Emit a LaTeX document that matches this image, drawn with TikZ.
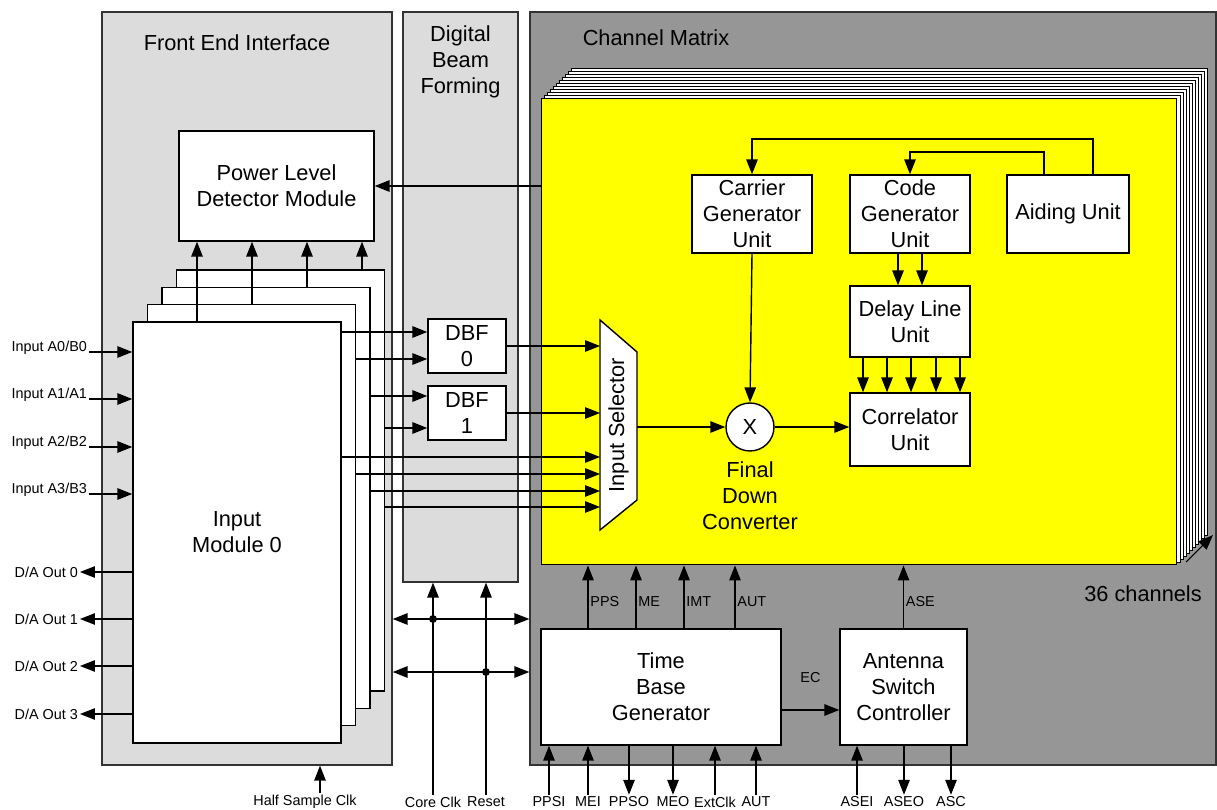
\documentclass[tikz,border=0pt]{standalone}
\usepackage{fontspec}
\setmainfont{Liberation Sans}
\usetikzlibrary{arrows.meta, positioning, calc}
\usepackage{xcolor}
\definecolor{panelLightC}{HTML}{DCDCDC}
\definecolor{panelDarkC}{HTML}{969696}
\definecolor{chanYellow}{HTML}{FFFF00}
\tikzset{
    font=\fontsize{12.4}{14.8}\selectfont,
    >={Triangle[length=8.5pt,width=6.5pt]},
    % Panels
    panelLight/.style={rectangle, draw=black!80, fill=panelLightC, line width=0.8pt, inner sep=0pt},
    panelDark/.style={rectangle, draw=black!80, fill=panelDarkC, line width=0.8pt, inner sep=0pt},
    % Shapes
    unitBox/.style={rectangle, draw=black, fill=white, line width=0.8pt, align=center, inner sep=2pt},
    modPage/.style={rectangle, draw=black, fill=white, line width=0.8pt, align=center, inner sep=0pt},
    chanPage/.style={draw=black, fill=white, line width=0.5pt},
    mixer/.style={circle, draw=black, fill=white, line width=0.8pt, minimum size=0.96cm, inner sep=0pt},
    % Flow & Labels
    flow/.style={->, line width=0.8pt},
    biflow/.style={<->, line width=0.8pt},
    lbl/.style={align=center, inner sep=1pt},
    pinLbl/.style={font=\fontsize{8.2}{9.8}\selectfont, inner sep=1pt},
    dot/.style={circle, fill=black, inner sep=0pt, minimum size=4.5pt}
}

\begin{document}
\begin{tikzpicture}[x=0.02cm, y=-0.02cm]
\useasboundingbox (0,0) rectangle (1217,810);

% Panels
\node[panelLight, minimum width=5.8cm, minimum height=15.06cm] (fei) at (247,388.5) {};
\node[panelLight, minimum width=2.3cm, minimum height=11.4cm] (dbfp) at (460.5,297) {};
\node[panelDark, minimum width=13.72cm, minimum height=15.06cm] (cm) at (873,388.5) {};
\node[lbl] (feiTitle) at (237,43) {Front End Interface};
\node[lbl] (dbfTitle) at (460.5,62) {Digital\\Beam\\Forming};
\node[lbl] (cmTitle) at (656,38) {Channel Matrix};

% Channel pages
\foreach \i in {10,...,1}
  \draw[chanPage] (541+3*\i,98-3*\i) rectangle (1177+3*\i,565-3*\i);
\node[rectangle, draw=black, line width=0.6pt, fill=chanYellow,
      minimum width=12.72cm, minimum height=9.34cm] (chan) at (859,331.5) {};
\node[lbl] (chanCount) at (1143,594) {36 channels};
\coordinate (stackA) at (1186,562);
\coordinate (stackB) at (1213,535);
\draw[->, line width=0.6pt] (stackA) -- (stackB);

% Front end
\node[unitBox, minimum width=3.9cm, minimum height=2.2cm] (pld) at (276.5,186) {Power Level\\Detector Module};
\foreach \i in {3,2,1}
  \node[modPage, minimum width=4.16cm, minimum height=8.42cm] (mod\i) at (237+14.5*\i, 532.5-17.3*\i) {};
\node[modPage, minimum width=4.16cm, minimum height=8.42cm] (mod0) at (237,532.5) {Input\\Module 0};

% Beam forming
\node[unitBox, minimum width=1.56cm, minimum height=1.08cm] (dbf0) at (467,346) {DBF\\0};
\node[unitBox, minimum width=1.56cm, minimum height=1.08cm] (dbf1) at (467,413) {DBF\\1};

% Channel
\draw[draw=black, fill=white, line width=0.8pt] (600,320) -- (637,352) -- (637,500) -- (600,530) -- cycle;
\node[lbl, rotate=90] (sel) at (618.5,425) {Input Selector};
\coordinate (selIn) at (600,425);
\coordinate (selOut) at (637,427);
\node[mixer] (fdc) at (750,427) {X};
\node[lbl] (fdcLbl) at (750,496) {Final\\Down\\Converter};
\node[unitBox, minimum width=2.4cm, minimum height=1.56cm] (car) at (752,214) {Carrier\\Generator\\Unit};
\node[unitBox, minimum width=2.4cm, minimum height=1.56cm] (code) at (910,214) {Code\\Generator\\Unit};
\node[unitBox, minimum width=2.44cm, minimum height=1.56cm] (aid) at (1068,214) {Aiding Unit};
\node[unitBox, minimum width=2.4cm, minimum height=1.42cm] (dly) at (910,321.5) {Delay Line\\Unit};
\node[unitBox, minimum width=2.4cm, minimum height=1.46cm] (cor) at (910,429.5) {Correlator\\Unit};
\node[unitBox, minimum width=4.8cm, minimum height=2.32cm] (tbg) at (661,687) {Time\\Base\\Generator};
\node[unitBox, minimum width=2.54cm, minimum height=2.32cm] (asc) at (903.5,687) {Antenna\\Switch\\Controller};

% Front end flows
\foreach \x/\m in {197/mod0, 252/mod1, 307/mod2, 362/mod3}
  \draw[flow] (\x,0 |- \m.north) -- (\x,0 |- pld.south);
\foreach \m/\y/\t in {mod0/332/dbf0, mod1/359/dbf0, mod2/396/dbf1, mod3/428/dbf1}
  \draw[flow] (\m.east |- 0,\y) -- (\t.west |- 0,\y);
\foreach \m/\y in {mod0/457, mod1/474, mod2/491, mod3/507}
  \draw[flow] (\m.east |- 0,\y) -- (selIn |- 0,\y);
\draw[flow] (chan.west |- pld.east) -- (pld.east);

\node[pinLbl, anchor=base east] (inA0) at (89,352) {Input A0/B0};
\node[pinLbl, anchor=base east] (inA1) at (89,399) {Input A1/A1};
\node[pinLbl, anchor=base east] (inA2) at (89,447) {Input A2/B2};
\node[pinLbl, anchor=base east] (inA3) at (89,494) {Input A3/B3};
\foreach \n in {inA0, inA1, inA2, inA3}
  \draw[flow] (\n.base east) -- (\n.base east -| mod0.west);
\foreach \i/\y in {0/572, 1/619, 2/666, 3/714} {
  \node[pinLbl, anchor=east] (da\i) at (80,\y) {D/A Out \i};
  \draw[flow] (mod0.west |- da\i.east) -- (da\i.east);
}

% Channel flows
\draw[flow] (dbf0.east) -- (selIn |- dbf0.east);
\draw[flow] (dbf1.east) -- (selIn |- dbf1.east);
\draw[flow] (selOut) -- (fdc.west);
\draw[flow] (car.south) -- (fdc.north);
\draw[flow] (fdc.east) -- (fdc.east -| cor.west);
\draw[flow] (1093,0 |- aid.north) -- (1093,139) -| (car.north);
\draw[flow] (1044,0 |- aid.north) -- (1044,152) -| (code.north);
\foreach \x in {898, 922}
  \draw[flow] (\x,0 |- code.south) -- (\x,0 |- dly.north);
\foreach \x in {863, 887, 911, 936, 960}
  \draw[flow] (\x,0 |- dly.south) -- (\x,0 |- cor.north);

% Timing flows
\foreach \x/\t in {588/PPS, 636/ME, 684/IMT, 735/AUT}
  \draw[flow] (\x,0 |- tbg.north) -- node[pinLbl, right, pos=0.42] {\t} (\x,0 |- chan.south);
\draw[flow] (asc.north) -- node[pinLbl, right, pos=0.42] {ASE} (asc.north |- chan.south);
\draw[flow] (tbg.east |- 0,710) -- node[pinLbl, above=0.5cm] {EC} (asc.west |- 0,710);

% Bottom pins
\node[pinLbl] (hsc) at (305,802) {Half Sample Clk};
\draw[flow] (320,0 |- hsc.north) -- (320,0 |- fei.south);
\node[pinLbl] (cclk) at (433,802) {Core Clk};
\node[pinLbl] (rst) at (486,802) {Reset};
\draw[flow] (cclk.north) -- (cclk.north |- dbfp.south);
\draw[flow] (rst.north) -- (rst.north |- dbfp.south);
\draw[biflow] (fei.east |- 0,619) -- (cm.west |- 0,619);
\draw[biflow] (fei.east |- 0,672) -- (cm.west |- 0,672);
\node[dot] (jc) at (cclk.north |- 0,619) {};
\node[dot] (jr) at (rst.north |- 0,672) {};

\foreach \x/\t in {549/PPSI, 588/MEI, 715/ExtClk, 756/AUT} {
  \node[pinLbl] (p\t) at (\x,802) {\t};
  \draw[flow] (p\t.north) -- (p\t.north |- tbg.south);
}
\foreach \x/\t in {629/PPSO, 673/MEO} {
  \node[pinLbl] (p\t) at (\x,802) {\t};
  \draw[flow] (p\t.north |- tbg.south) -- (p\t.north);
}
\node[pinLbl] (pASEI) at (857,802) {ASEI};
\draw[flow] (pASEI.north) -- (pASEI.north |- asc.south);
\foreach \x/\t in {904/ASEO, 951/ASC} {
  \node[pinLbl] (p\t) at (\x,802) {\t};
  \draw[flow] (p\t.north |- asc.south) -- (p\t.north);
}

\end{tikzpicture}
\end{document}
